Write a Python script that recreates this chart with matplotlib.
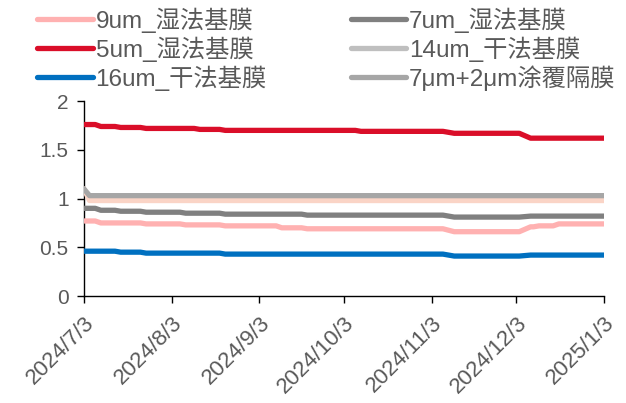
import matplotlib
matplotlib.use("Agg")
import matplotlib.pyplot as plt
from matplotlib.lines import Line2D
import pandas as pd

plt.rcParams['font.family'] = ['Liberation Sans', 'Noto Sans CJK SC', 'DejaVu Sans']

dates = ['2024-07-03', '2024-07-05', '2024-07-07', '2024-07-09', '2024-07-14', '2024-07-16',
         '2024-07-23', '2024-07-25', '2024-08-06', '2024-08-08', '2024-08-11', '2024-08-13',
         '2024-08-20', '2024-08-22', '2024-09-09', '2024-09-11', '2024-09-18', '2024-09-20',
         '2024-10-07', '2024-10-09', '2024-11-07', '2024-11-11', '2024-12-04', '2024-12-08',
         '2024-12-09', '2024-12-11', '2024-12-16', '2024-12-18', '2025-01-03']

wet_9um = [0.77, 0.77, 0.77, 0.75, 0.75, 0.75, 0.75, 0.74, 0.74, 0.73, 0.73, 0.73,
           0.73, 0.72, 0.72, 0.70, 0.70, 0.69, 0.69, 0.69, 0.69, 0.66, 0.66, 0.71,
           0.71, 0.72, 0.72, 0.74, 0.74]
wet_7um = [0.90, 0.90, 0.90, 0.88, 0.88, 0.87, 0.87, 0.86, 0.86, 0.85, 0.85, 0.85,
           0.85, 0.84, 0.84, 0.84, 0.84, 0.83, 0.83, 0.83, 0.83, 0.81, 0.81, 0.82,
           0.82, 0.82, 0.82, 0.82, 0.82]
wet_5um = [1.76, 1.76, 1.76, 1.74, 1.74, 1.73, 1.73, 1.72, 1.72, 1.72, 1.72, 1.71,
           1.71, 1.70, 1.70, 1.70, 1.70, 1.70, 1.70, 1.69, 1.69, 1.67, 1.67, 1.62,
           1.62, 1.62, 1.62, 1.62, 1.62]
dry_14um = [1.10, 0.98, 0.98, 0.98, 0.98, 0.98, 0.98, 0.98, 0.98, 0.98, 0.98, 0.98,
            0.98, 0.98, 0.98, 0.98, 0.98, 0.98, 0.98, 0.98, 0.98, 0.98, 0.98, 0.98,
            0.98, 0.98, 0.98, 0.98, 0.98]
dry_16um = [0.46, 0.46, 0.46, 0.46, 0.46, 0.45, 0.45, 0.44, 0.44, 0.44, 0.44, 0.44,
            0.44, 0.43, 0.43, 0.43, 0.43, 0.43, 0.43, 0.43, 0.43, 0.41, 0.41, 0.42,
            0.42, 0.42, 0.42, 0.42, 0.42]
coated = [1.10, 1.03, 1.03, 1.03, 1.03, 1.03, 1.03, 1.03, 1.03, 1.03, 1.03, 1.03,
          1.03, 1.03, 1.03, 1.03, 1.03, 1.03, 1.03, 1.03, 1.03, 1.03, 1.03, 1.03,
          1.03, 1.03, 1.03, 1.03, 1.03]

labels = ['9um_湿法基膜', '7um_湿法基膜', '5um_湿法基膜', '14um_干法基膜', '16um_干法基膜', '7μm+2μm涂覆隔膜']
series = [wet_9um, wet_7um, wet_5um, dry_14um, dry_16um, coated]
line_colors = ['#FFB1B1', '#808080', '#DA0E29', '#FAD4C6', '#0070C0', '#A6A6A6']
legend_colors = ['#FFB1B1', '#808080', '#DA0E29', '#BFBFBF', '#0070C0', '#A6A6A6']

tick_dates = ['2024-07-03', '2024-08-03', '2024-09-03', '2024-10-03', '2024-11-03', '2024-12-03', '2025-01-03']
tick_labels = ['2024/7/3', '2024/8/3', '2024/9/3', '2024/10/3', '2024/11/3', '2024/12/3', '2025/1/3']

x = pd.to_datetime(dates)

fig = plt.figure(figsize=(6.26, 4.03), dpi=100)
ax = fig.add_axes([0.134, 0.2655, 0.831, 0.4835])

order = [3, 5, 0, 1, 2, 4]
for i in order:
    ax.plot(x, series[i], color=line_colors[i], lw=3.8, solid_capstyle='round',
            solid_joinstyle='round', zorder=3)

ax.set_ylim(0, 2)
ax.set_yticks([0, 0.5, 1, 1.5, 2])
ax.set_yticklabels(['0', '0.5', '1', '1.5', '2'])
ax.set_xlim(pd.Timestamp(tick_dates[0]), pd.Timestamp(tick_dates[-1]))
ax.set_xticks(pd.to_datetime(tick_dates))
ax.set_xticklabels(tick_labels, rotation=45, ha='right', rotation_mode='anchor')

for s in ['top', 'right']:
    ax.spines[s].set_visible(False)
for s in ['left', 'bottom']:
    ax.spines[s].set_color('black')
    ax.spines[s].set_linewidth(1.0)
ax.tick_params(axis='both', direction='out', length=5, width=1, color='black',
               labelcolor='#595959', labelsize=15)
ax.tick_params(axis='x', pad=7, labelsize=16)
ax.tick_params(axis='y', pad=6)

handles = [Line2D([0], [0], color=c, lw=3.8, solid_capstyle='round') for c in legend_colors]
leg_order = [0, 2, 4, 1, 3, 5]
fig.legend([handles[i] for i in leg_order], [labels[i] for i in leg_order],
           ncol=2, loc='upper left', bbox_to_anchor=(0.04, 1.012), frameon=False,
           fontsize=17.5, handlelength=2.3, handletextpad=0.1, columnspacing=3.45,
           labelspacing=0.15, borderpad=0.0, labelcolor='#595959')

fig.savefig('out.png', dpi=100)
